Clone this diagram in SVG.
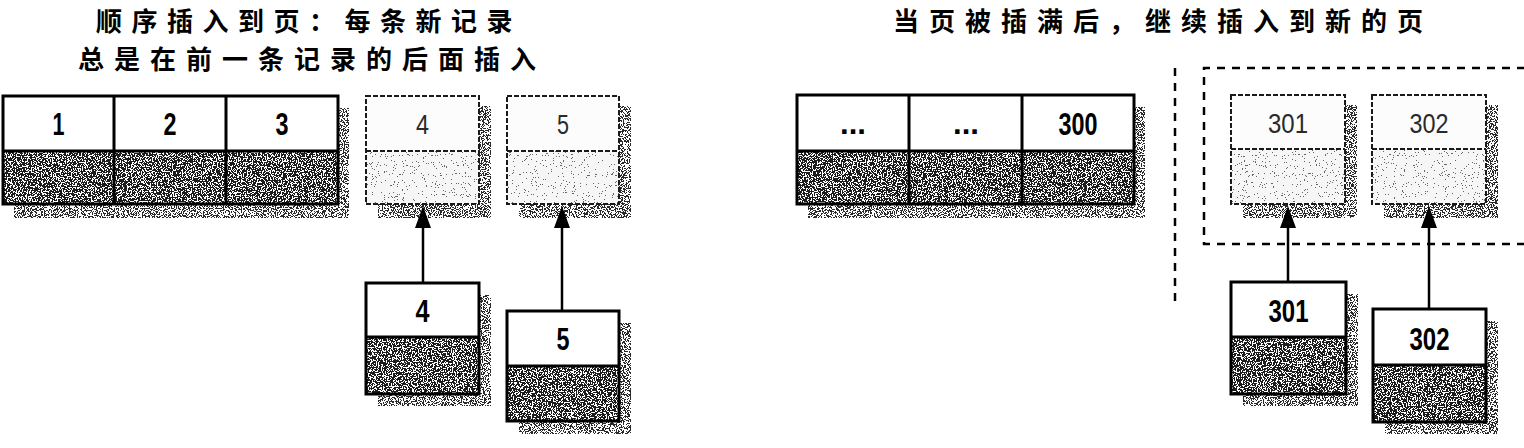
<svg xmlns="http://www.w3.org/2000/svg" width="1524" height="448" viewBox="0 0 1524 448">
<style>
.frame{fill:none;stroke:#000;stroke-width:3}
.dframe{fill:none;stroke:#1a1a1a;stroke-width:2;stroke-dasharray:5 2}
.num{font-family:"Liberation Sans","Arimo",sans-serif;font-weight:bold;font-size:31px;text-anchor:middle;fill:#000}
.numl{font-family:"Liberation Sans","Arimo",sans-serif;font-weight:normal;font-size:28px;text-anchor:middle;fill:#2a2a2a}
.title{font-family:"Noto Sans CJK SC","Noto Sans CJK TC",sans-serif;font-weight:bold;font-size:26px;fill:#000}
.edge{fill:none;stroke:#000;stroke-width:2.5;marker-end:url(#ah)}
.bound{fill:none;stroke:#000;stroke-width:2.5;stroke-dasharray:8 7}
.paper{fill:#fff}
.paperl{fill:#fcfcfc}
</style>
<defs>
<filter id="fDark" x="0" y="0" width="1" height="1" color-interpolation-filters="sRGB">
<feTurbulence type="fractalNoise" baseFrequency="0.8" numOctaves="2" seed="4" result="n"/>
<feColorMatrix in="n" type="matrix" values="0 0 0 0 0 0 0 0 0 0 0 0 0 0 0 6 0 0 0 -2.3" result="a"/>
<feComponentTransfer in="a" result="m"><feFuncA type="discrete" tableValues="0 1"/></feComponentTransfer>
<feFlood flood-color="#1c1c1c" result="ink"/>
<feComposite in="ink" in2="m" operator="in" result="dots"/>
<feFlood flood-color="#ffffff" result="pp"/>
<feMerge><feMergeNode in="pp"/><feMergeNode in="dots"/></feMerge>
</filter>
<filter id="fShade" x="0" y="0" width="1" height="1" color-interpolation-filters="sRGB">
<feTurbulence type="fractalNoise" baseFrequency="0.85" numOctaves="2" seed="9" result="n"/>
<feColorMatrix in="n" type="matrix" values="0 0 0 0 0 0 0 0 0 0 0 0 0 0 0 6 0 0 0 -2.6" result="a"/>
<feComponentTransfer in="a" result="m"><feFuncA type="discrete" tableValues="0 1"/></feComponentTransfer>
<feFlood flood-color="#2a2a2a" result="ink"/>
<feComposite in="ink" in2="m" operator="in" result="dots"/>
<feFlood flood-color="#ffffff" result="pp"/>
<feMerge><feMergeNode in="pp"/><feMergeNode in="dots"/></feMerge>
</filter>
<filter id="fLight" x="0" y="0" width="1" height="1" color-interpolation-filters="sRGB">
<feTurbulence type="fractalNoise" baseFrequency="0.9" numOctaves="2" seed="2" result="n"/>
<feColorMatrix in="n" type="matrix" values="0 0 0 0 0 0 0 0 0 0 0 0 0 0 0 6 0 0 0 -3.7" result="a"/>
<feComponentTransfer in="a" result="m"><feFuncA type="discrete" tableValues="0 1"/></feComponentTransfer>
<feFlood flood-color="#666666" result="ink"/>
<feComposite in="ink" in2="m" operator="in" result="dots"/>
<feFlood flood-color="#f6f6f6" result="pp"/>
<feMerge><feMergeNode in="pp"/><feMergeNode in="dots"/></feMerge>
</filter>
<marker id="ah" viewBox="0 0 22 16" refX="12" refY="8" markerWidth="22" markerHeight="16" markerUnits="userSpaceOnUse" orient="auto">
<path d="M0,0 L22,8 L0,16 Z" fill="#000"/>
</marker>
</defs>

<g id="titles">
<text class="title" x="96" y="31" letter-spacing="9.5">顺序插入到页：每条新记录</text>
<text class="title" x="78" y="68.5" letter-spacing="10">总是在前一条记录的后面插入</text>
<text class="title" x="893" y="31" letter-spacing="10">当页被插满后，继续插入到新的页</text>
</g>

<g id="new-page-boundary">
<line class="bound" x1="1175" y1="68" x2="1175" y2="308"/>
<path class="bound" d="M1540 68H1204V244H1540"/>
</g>

<g id="page-1-3">
<rect x="14" y="108" width="335" height="110" filter="url(#fShade)"/>
<rect class="paper" x="3" y="96" width="335" height="55"/>
<rect x="3" y="151" width="335" height="53" filter="url(#fDark)"/>
<rect class="frame" x="3" y="96" width="335" height="108"/>
<path class="frame" d="M3 151H338M114 96V204M226 96V204"/>
<text class="num" x="58.5" y="135" textLength="12" lengthAdjust="spacingAndGlyphs">1</text>
<text class="num" x="170" y="135" textLength="13" lengthAdjust="spacingAndGlyphs">2</text>
<text class="num" x="282" y="135" textLength="13" lengthAdjust="spacingAndGlyphs">3</text>
</g>

<g id="slot-4">
<rect x="378" y="106" width="113" height="112" filter="url(#fShade)"/>
<rect class="paperl" x="366" y="96" width="113" height="55"/>
<rect x="366" y="151" width="113" height="53" filter="url(#fLight)"/>
<rect class="dframe" x="366" y="96" width="113" height="108"/>
<path class="dframe" d="M366 151H479"/>
<text class="numl" x="422.5" y="134" textLength="13" lengthAdjust="spacingAndGlyphs">4</text>
</g>

<g id="slot-5">
<rect x="519" y="106" width="112" height="112" filter="url(#fShade)"/>
<rect class="paperl" x="507" y="96" width="112" height="55"/>
<rect x="507" y="151" width="112" height="53" filter="url(#fLight)"/>
<rect class="dframe" x="507" y="96" width="112" height="108"/>
<path class="dframe" d="M507 151H619"/>
<text class="numl" x="563" y="134" textLength="12" lengthAdjust="spacingAndGlyphs">5</text>
</g>

<g id="record-4">
<rect x="378" y="295" width="113" height="111" filter="url(#fShade)"/>
<rect class="paper" x="366" y="283" width="113" height="54"/>
<rect x="366" y="337" width="113" height="57" filter="url(#fDark)"/>
<rect class="frame" x="366" y="283" width="113" height="111"/>
<path class="frame" d="M366 337H479"/>
<text class="num" x="422.5" y="322" textLength="14" lengthAdjust="spacingAndGlyphs">4</text>
</g>

<g id="record-5">
<rect x="519" y="323" width="112" height="111" filter="url(#fShade)"/>
<rect class="paper" x="507" y="311" width="112" height="55"/>
<rect x="507" y="366" width="112" height="55" filter="url(#fDark)"/>
<rect class="frame" x="507" y="311" width="112" height="110"/>
<path class="frame" d="M507 366H619"/>
<text class="num" x="563" y="350" textLength="13" lengthAdjust="spacingAndGlyphs">5</text>
</g>

<g id="page-full">
<rect x="808" y="107" width="337" height="111" filter="url(#fShade)"/>
<rect class="paper" x="797" y="95" width="337" height="56"/>
<rect x="797" y="151" width="337" height="53" filter="url(#fDark)"/>
<rect class="frame" x="797" y="95" width="337" height="109"/>
<path class="frame" d="M797 151H1134M909 95V204M1022 95V204"/>
<text class="num" x="853" y="134">...</text>
<text class="num" x="966" y="134">...</text>
<text class="num" x="1078" y="135" textLength="39" lengthAdjust="spacingAndGlyphs">300</text>
</g>

<g id="slot-301">
<rect x="1243" y="105" width="114" height="113" filter="url(#fShade)"/>
<rect class="paperl" x="1231" y="95" width="114" height="54"/>
<rect x="1231" y="149" width="114" height="55" filter="url(#fLight)"/>
<rect class="dframe" x="1231" y="95" width="114" height="109"/>
<path class="dframe" d="M1231 149H1345"/>
<text class="numl" x="1288" y="133" textLength="40" lengthAdjust="spacingAndGlyphs">301</text>
</g>

<g id="slot-302">
<rect x="1384" y="105" width="114" height="113" filter="url(#fShade)"/>
<rect class="paperl" x="1372" y="95" width="114" height="54"/>
<rect x="1372" y="149" width="114" height="55" filter="url(#fLight)"/>
<rect class="dframe" x="1372" y="95" width="114" height="109"/>
<path class="dframe" d="M1372 149H1486"/>
<text class="numl" x="1429" y="133" textLength="39" lengthAdjust="spacingAndGlyphs">302</text>
</g>

<g id="record-301">
<rect x="1243" y="294" width="115" height="112" filter="url(#fShade)"/>
<rect class="paper" x="1231" y="282" width="115" height="55"/>
<rect x="1231" y="337" width="115" height="57" filter="url(#fDark)"/>
<rect class="frame" x="1231" y="282" width="115" height="112"/>
<path class="frame" d="M1231 337H1346"/>
<text class="num" x="1288.5" y="322" textLength="40" lengthAdjust="spacingAndGlyphs">301</text>
</g>

<g id="record-302">
<rect x="1385" y="321" width="113" height="113" filter="url(#fShade)"/>
<rect class="paper" x="1373" y="309" width="113" height="56"/>
<rect x="1373" y="365" width="113" height="57" filter="url(#fDark)"/>
<rect class="frame" x="1373" y="309" width="113" height="113"/>
<path class="frame" d="M1373 365H1486"/>
<text class="num" x="1429.5" y="350" textLength="40" lengthAdjust="spacingAndGlyphs">302</text>
</g>

<g id="connectors">
<line class="edge" x1="423" y1="283" x2="423" y2="216"/>
<line class="edge" x1="562" y1="311" x2="562" y2="216"/>
<line class="edge" x1="1288" y1="282" x2="1288" y2="216"/>
<line class="edge" x1="1429" y1="309" x2="1429" y2="216"/>
</g>
</svg>
